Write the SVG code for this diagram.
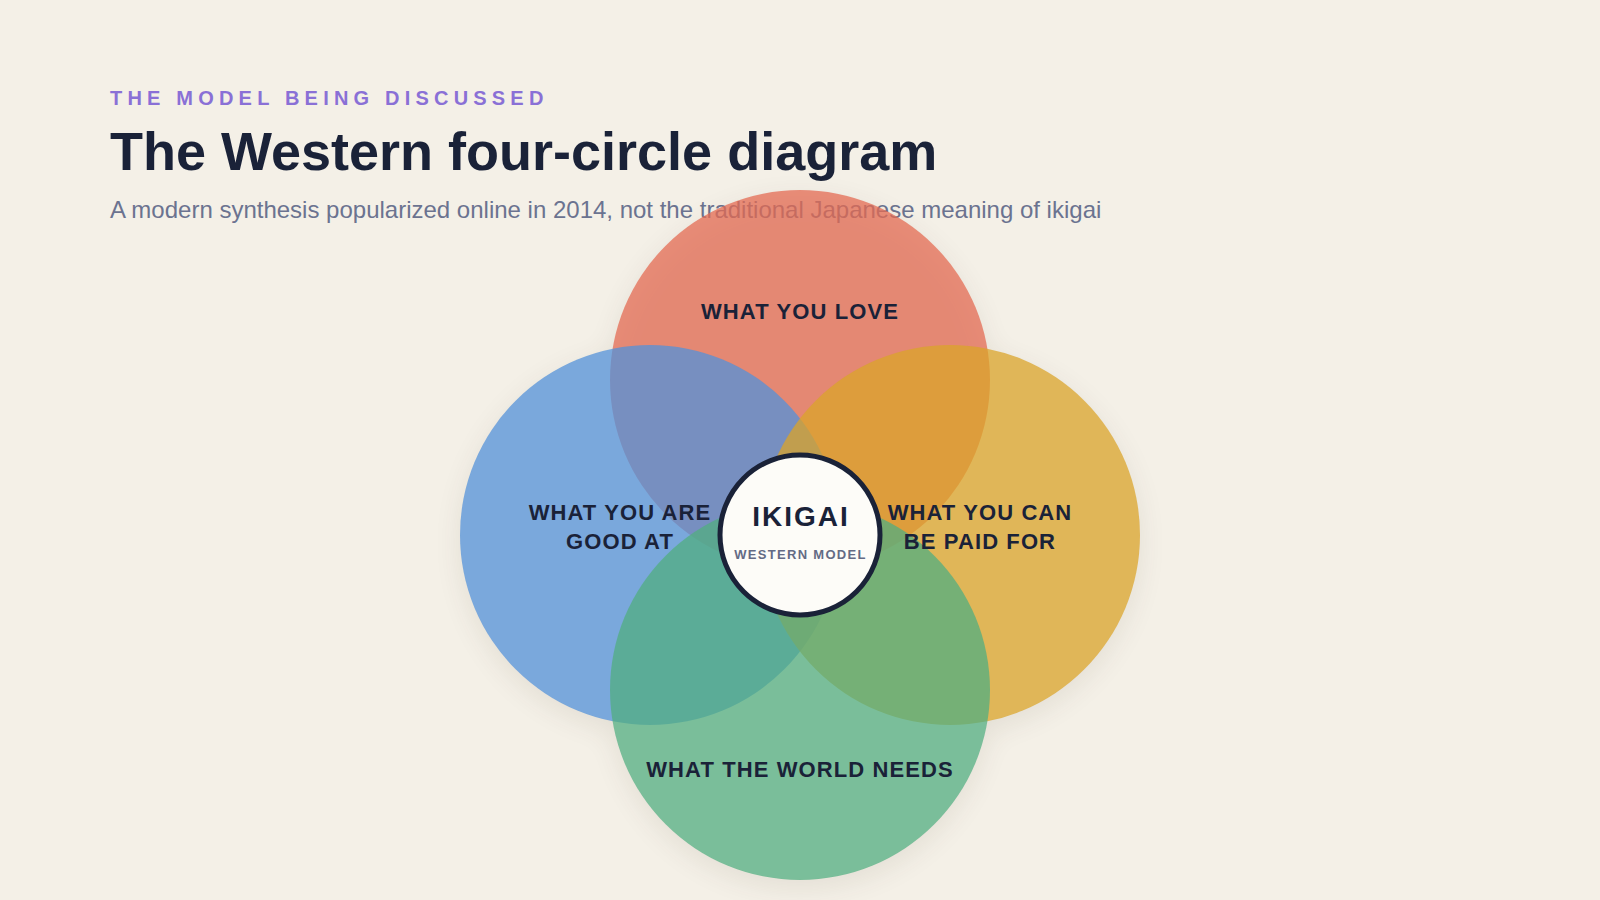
<svg xmlns="http://www.w3.org/2000/svg" width="1600" height="900" viewBox="0 0 1600 900">
  <defs>
    <style>
      .eyebrow { font-family: "Liberation Sans", Arial, sans-serif; font-weight: 700; font-size: 20px; letter-spacing: 5.2px; fill: #8a70d6; }
      .title { font-family: "Liberation Sans", Arial, sans-serif; font-weight: 700; font-size: 54px; fill: #1a2238; }
      .subtitle { font-family: "Liberation Sans", Arial, sans-serif; font-size: 24px; fill: #6b7390; }
      .lbl { font-family: "Liberation Sans", Arial, sans-serif; font-weight: 700; font-size: 22px; letter-spacing: 1.1px; fill: #1a2238; text-anchor: middle; }
      .petal { fill-opacity: 0.75; }
      .core-title { font-family: "Liberation Sans", Arial, sans-serif; font-weight: 700; font-size: 28px; letter-spacing: 2px; fill: #1a2238; text-anchor: middle; }
      .core-sub { font-family: "Liberation Sans", Arial, sans-serif; font-weight: 700; font-size: 13px; letter-spacing: 1.3px; fill: #646b85; text-anchor: middle; }
    </style>
    <filter id="soft" x="-30%" y="-30%" width="160%" height="160%">
      <feGaussianBlur stdDeviation="14"/>
    </filter>
  </defs>

  <rect width="1600" height="900" fill="#f4f0e7"/>

  <g id="header">
    <text class="eyebrow" x="110" y="105">THE MODEL BEING DISCUSSED</text>
    <text class="title" x="110" y="170">The Western four-circle diagram</text>
    <text class="subtitle" x="110" y="218">A modern synthesis popularized online in 2014, not the traditional Japanese meaning of ikigai</text>
  </g>

  <g id="shadows" fill="#3a2e1a" opacity="0.09" filter="url(#soft)">
    <circle cx="800" cy="388" r="190"/>
    <circle cx="650" cy="543" r="190"/>
    <circle cx="950" cy="543" r="190"/>
    <circle cx="800" cy="698" r="190"/>
  </g>
  <g id="shadow-cover" fill="#f4f0e7">
    <circle cx="650" cy="535" r="189.5"/>
    <circle cx="950" cy="535" r="189.5"/>
    <circle cx="800" cy="690" r="189.5"/>
  </g>

  <g id="love">
    <circle class="petal" cx="800" cy="380" r="190" fill="#e46b53"/>
  </g>
  <g id="good-at">
    <circle class="petal" cx="650" cy="535" r="190" fill="#5190d8"/>
  </g>
  <g id="paid-for">
    <circle class="petal" cx="950" cy="535" r="190" fill="#d9a328"/>
  </g>
  <g id="world-needs">
    <circle class="petal" cx="800" cy="690" r="190" fill="#51ad80"/>
  </g>

  <g id="labels">
    <text class="lbl" x="800" y="319">WHAT YOU LOVE</text>
    <text class="lbl" x="620" y="520">WHAT YOU ARE</text>
    <text class="lbl" x="620" y="549">GOOD AT</text>
    <text class="lbl" x="980" y="520">WHAT YOU CAN</text>
    <text class="lbl" x="980" y="549">BE PAID FOR</text>
    <text class="lbl" x="800" y="777">WHAT THE WORLD NEEDS</text>
  </g>

  <g id="ikigai">
    <circle cx="800" cy="535" r="80" fill="#fdfcf8" stroke="#1a2238" stroke-width="5"/>
    <text class="core-title" x="801" y="526">IKIGAI</text>
    <text class="core-sub" x="800.5" y="559">WESTERN MODEL</text>
  </g>
</svg>
